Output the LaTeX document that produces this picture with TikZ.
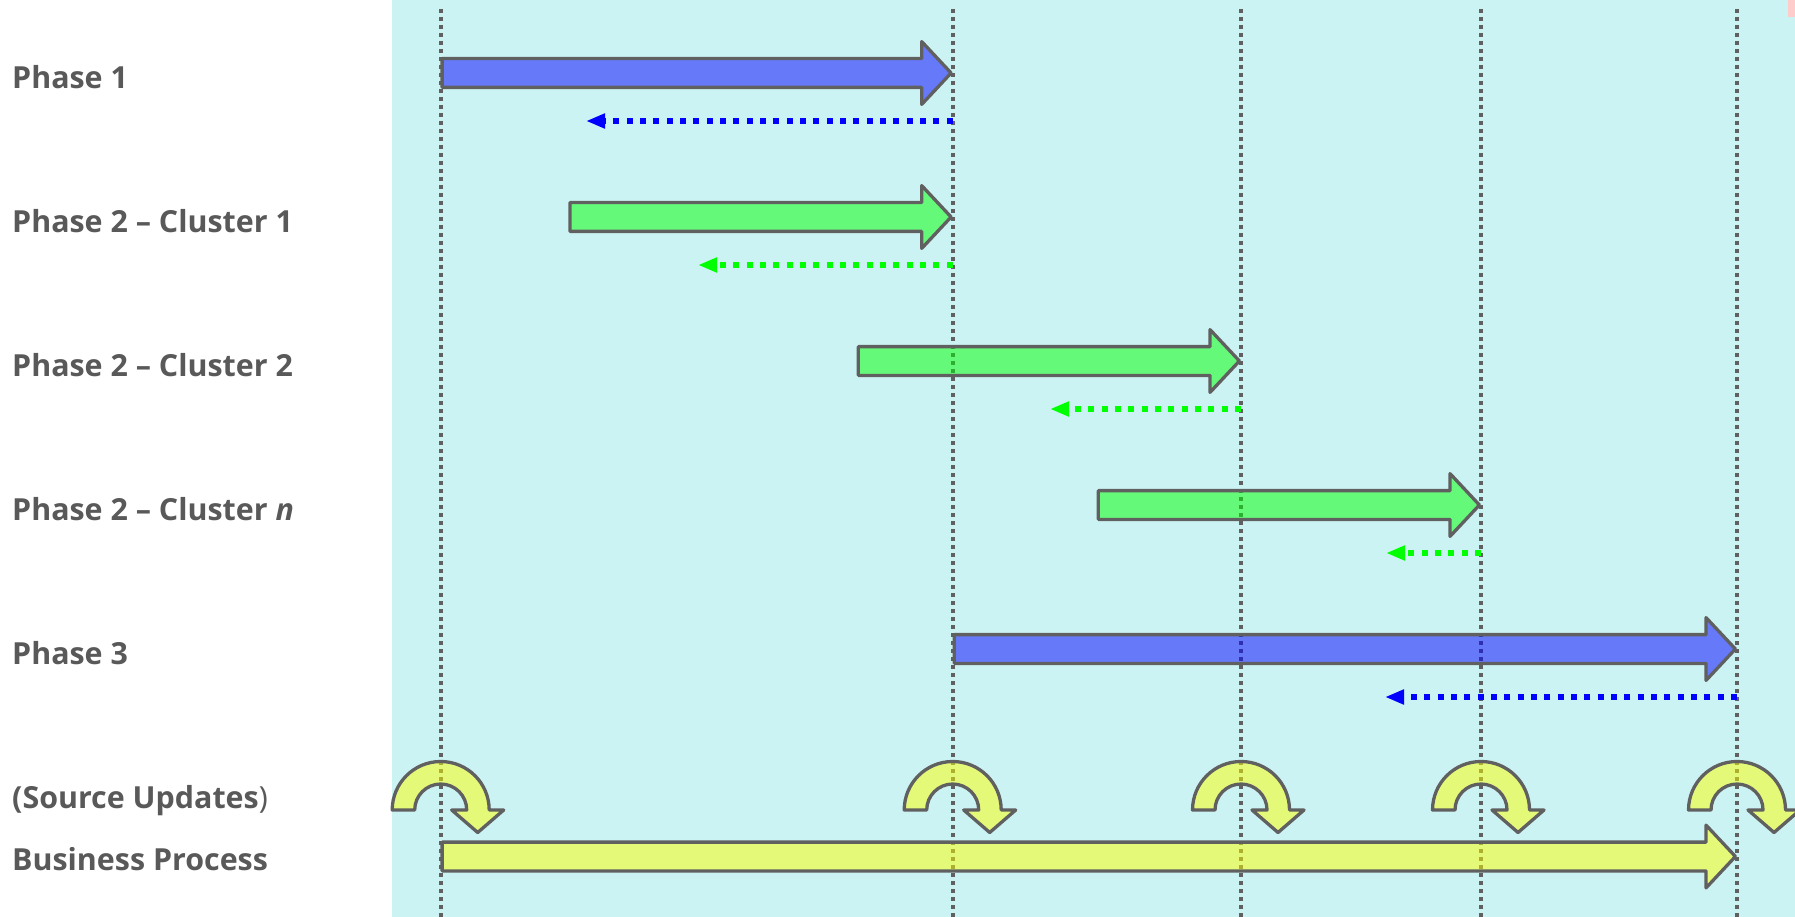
\documentclass[tikz,border=0pt]{standalone}
\usepackage{fontspec}
\setmainfont{Open Sans}
\usetikzlibrary{arrows.meta}
\definecolor{bgc}{RGB}{204,243,243}
\definecolor{linec}{RGB}{96,96,96}
\definecolor{txtc}{RGB}{89,89,89}
\definecolor{pinkc}{RGB}{255,204,204}
\definecolor{pblue}{RGB}{0,0,255}
\definecolor{pgreen}{RGB}{0,255,0}
\definecolor{pyellow}{RGB}{255,255,0}
\tikzset{
  lbl/.style={anchor=base west, inner sep=0pt, text=txtc, font=\fontsize{30.4}{36}\selectfont\bfseries},
  vline/.style={draw=linec, line width=4pt, dash pattern=on 4pt off 4pt},
  blk/.style={draw=linec, line width=3.3pt, line join=round, fill opacity=0.5},
  backarrow/.style={line width=6pt, dash pattern=on 6pt off 7.33pt, -{Triangle[length=19pt,width=14pt]}},
}
% block arrow: fill colour, tail x, tip x, centre y
\newcommand{\blockarrow}[4]{%
  \draw[blk, fill=#1] (#2+1.6,#4-14.4) -- (#3-31,#4-14.4) -- (#3-31,#4-31.4) -- (#3-1.6,#4)
    -- (#3-31,#4+31.4) -- (#3-31,#4+14.4) -- (#2+1.6,#4+14.4) -- cycle;}
% curved (U-turn) arrow centred on x
\newcommand{\uturn}[1]{%
  \draw[blk, fill=pyellow] (#1-48.5,810) arc[start angle=180, end angle=0, radius=48.5pt]
    -- (#1+63,810) -- (#1+37,832.5) -- (#1+11,810) -- (#1+26,810)
    arc[start angle=0, end angle=180, radius=26pt] -- cycle;}
\begin{document}
\begin{tikzpicture}[x=1pt,y=-1pt]
  \useasboundingbox (0,0) rectangle (1795,917);
  \fill[white] (0,0) rectangle (1795,917);
  \fill[bgc] (392,0) rectangle (1795,917);
  \fill[pinkc] (1788,0) rectangle (1795,17);

  % time markers
  \foreach \n/\x in {t1/440.7, t2/952.7, t3/1241, t4/1481, t5/1737}{
    \coordinate (\n top) at (\x,9);
    \coordinate (\n bot) at (\x,917);
    \draw[vline] (\n top) -- (\n bot);
  }

  % labels
  \node[lbl] (l1) at (12,88.3)  {Phase 1};
  \node[lbl] (l2) at (12,232.7) {Phase 2 – Cluster 1};
  \node[lbl] (l3) at (12,376.7) {Phase 2 – Cluster 2};
  \node[lbl] (l4) at (12,520.5) {Phase 2 – Cluster \textit{n}};
  \node[lbl] (l5) at (12,664)   {Phase 3};
  \node[lbl] (l6) at (12,808.3) {(Source Updates\textmd{)}};
  \node[lbl] (l7) at (12,870.7) {Business Process};

  % phase arrows
  \blockarrow{pblue}{440.5}{952.7}{73}
  \blockarrow{pgreen}{568.3}{952.7}{217}
  \blockarrow{pgreen}{856.7}{1241}{361}
  \blockarrow{pgreen}{1096.7}{1481}{505}
  \blockarrow{pblue}{952.7}{1737}{649}
  \blockarrow{pyellow}{440.5}{1737}{856.5}

  % feedback arrows
  \coordinate (b1s) at (952.7,121);  \coordinate (b1e) at (586,121);
  \coordinate (b2s) at (952.7,265);  \coordinate (b2e) at (698,265);
  \coordinate (b3s) at (1241,409);   \coordinate (b3e) at (1050,409);
  \coordinate (b4s) at (1481,553);   \coordinate (b4e) at (1386,553);
  \coordinate (b5s) at (1737,697);   \coordinate (b5e) at (1385,697);
  \draw[backarrow, pblue]  (b1s) -- (b1e);
  \draw[backarrow, pgreen] (b2s) -- (b2e);
  \draw[backarrow, pgreen] (b3s) -- (b3e);
  \draw[backarrow, pgreen] (b4s) -- (b4e);
  \draw[backarrow, pblue]  (b5s) -- (b5e);

  % source updates
  \foreach \x in {440.7, 952.7, 1241, 1481, 1737}{\uturn{\x}}
\end{tikzpicture}
\end{document}
